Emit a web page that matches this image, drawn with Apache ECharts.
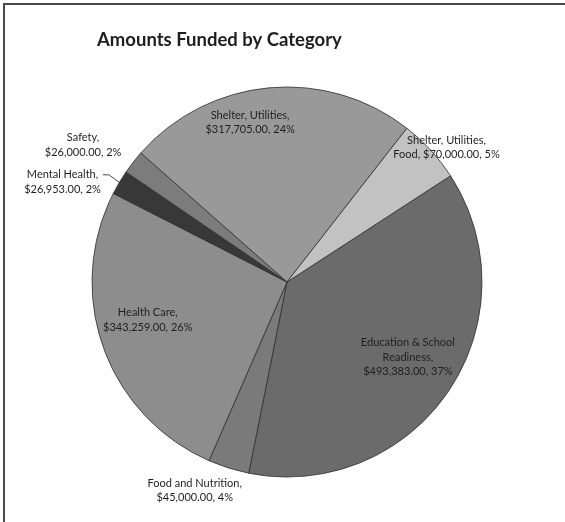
<!DOCTYPE html>
<html>
<head>
<meta charset="utf-8">
<script src="https://cdn.jsdelivr.net/npm/echarts@6/dist/echarts.min.js"></script>
<style>
  html, body { margin: 0; padding: 0; background: #ffffff; }
  #chart { width: 565px; height: 522px; }
</style>
</head>
<body>
<div id="chart"></div>
<script>
// Funding amounts per category (clockwise order of the slices)
const categories = [
  'Education & School Readiness',
  'Food and Nutrition',
  'Health Care',
  'Mental Health',
  'Safety',
  'Shelter, Utilities',
  'Shelter, Utilities, Food'
];
const amounts = [493383, 45000, 343259, 26953, 26000, 317705, 70000];
const percentText = ['37%', '4%', '26%', '2%', '2%', '24%', '5%'];

// Presentation settings
const sliceColors = ['#6b6b6b', '#7a7a7a', '#8d8d8d', '#383838', '#7c7c7c', '#999999', '#c2c2c2'];
const wrapChars = [18, 19, 16, 14, 14, 19, 20];          // max characters per label line
const labelRadius = [0.73, 1.17, 0.74, 1.26, 1.26, 0.84, 1.07]; // label distance, in pie radii
const labelTurn = [-2.3, 6.4, 4.4, -6.7, -4, -7.7, 2.4];  // clockwise nudge of label angle (deg)
const leaderLine = [false, false, false, true, false, false, false];

const CENTER = [287, 282];
const RADIUS = 195;
const START_ANGLE = 33;

const total = amounts.reduce((a, b) => a + b, 0);

function money(v) {
  return '$' + v.toLocaleString('en-US', { minimumFractionDigits: 2, maximumFractionDigits: 2 });
}

function wrap(text, maxChars) {
  const words = text.split(' ');
  const lines = [];
  let line = '';
  words.forEach(w => {
    const next = line ? line + ' ' + w : w;
    if (next.length > maxChars && line) { lines.push(line); line = w; }
    else line = next;
  });
  if (line) lines.push(line);
  return lines.join('\n');
}

function cwMidDeg(i) {
  let before = 0;
  for (let j = 0; j < i; j++) before += amounts[j];
  return (before + amounts[i] / 2) / total * 360;
}
// Screen angle (radians) of the label direction for slice i
function labelAngle(i) {
  return (START_ANGLE - cwMidDeg(i) - labelTurn[i]) * Math.PI / 180;
}
function sliceMidAngle(i) {
  return (START_ANGLE - cwMidDeg(i)) * Math.PI / 180;
}

const LINE_H = 14.5;

const chart = echarts.init(document.getElementById('chart'), null, { renderer: 'canvas' });

chart.setOption({
  backgroundColor: '#ffffff',
  animation: false,
  title: {
    text: 'Amounts Funded by Category',
    left: 92,
    top: 26,
    textStyle: {
      fontFamily: 'Lato',
      fontWeight: 'bold',
      fontSize: 18.5,
      color: '#1e1e1e'
    }
  },
  graphic: [{
    type: 'rect',
    shape: { x: 4, y: 4, width: 620, height: 580 },
    style: { fill: 'none', stroke: '#4a4a4a', lineWidth: 2 },
    silent: true
  }],
  series: [{
    type: 'pie',
    center: CENTER,
    radius: [0, RADIUS],
    startAngle: START_ANGLE,
    clockwise: true,
    avoidLabelOverlap: false,
    itemStyle: { borderColor: '#2e2e2e', borderWidth: 0.8 },
    label: {
      show: true,
      position: 'outside',
      fontFamily: 'Lato',
      fontSize: 11,
      lineHeight: LINE_H,
      color: '#1f1f1f',
      align: 'center'
    },
    labelLine: { show: false, length: 4, length2: 4, lineStyle: { color: '#4a4a4a', width: 1 } },
    labelLayout: function (params) {
      const i = params.dataIndex;
      const a = labelAngle(i);
      const r = RADIUS * labelRadius[i];
      const x = CENTER[0] + r * Math.cos(a);
      const y = CENTER[1] - r * Math.sin(a);
      const out = { x: x, y: y, align: 'center', verticalAlign: 'middle' };
      if (leaderLine[i]) {
        const m = sliceMidAngle(i);
        const ex = CENTER[0] + RADIUS * Math.cos(m);
        const ey = CENTER[1] - RADIUS * Math.sin(m);
        const h = params.labelRect.height;
        const w = params.labelRect.width;
        const sx = x + w / 2 + 2;
        const sy = y - h / 2 + LINE_H / 2;
        out.labelLinePoints = [[sx, sy], [sx + 6, sy], [ex, ey]];
      }
      return out;
    },
    data: categories.map((name, i) => ({
      name: name,
      value: amounts[i],
      itemStyle: { color: sliceColors[i] },
      labelLine: { show: leaderLine[i] },
      label: {
        formatter: wrap(name + ', ' + money(amounts[i]) + ', ' + percentText[i], wrapChars[i])
      }
    }))
  }]
});
</script>
</body>
</html>
